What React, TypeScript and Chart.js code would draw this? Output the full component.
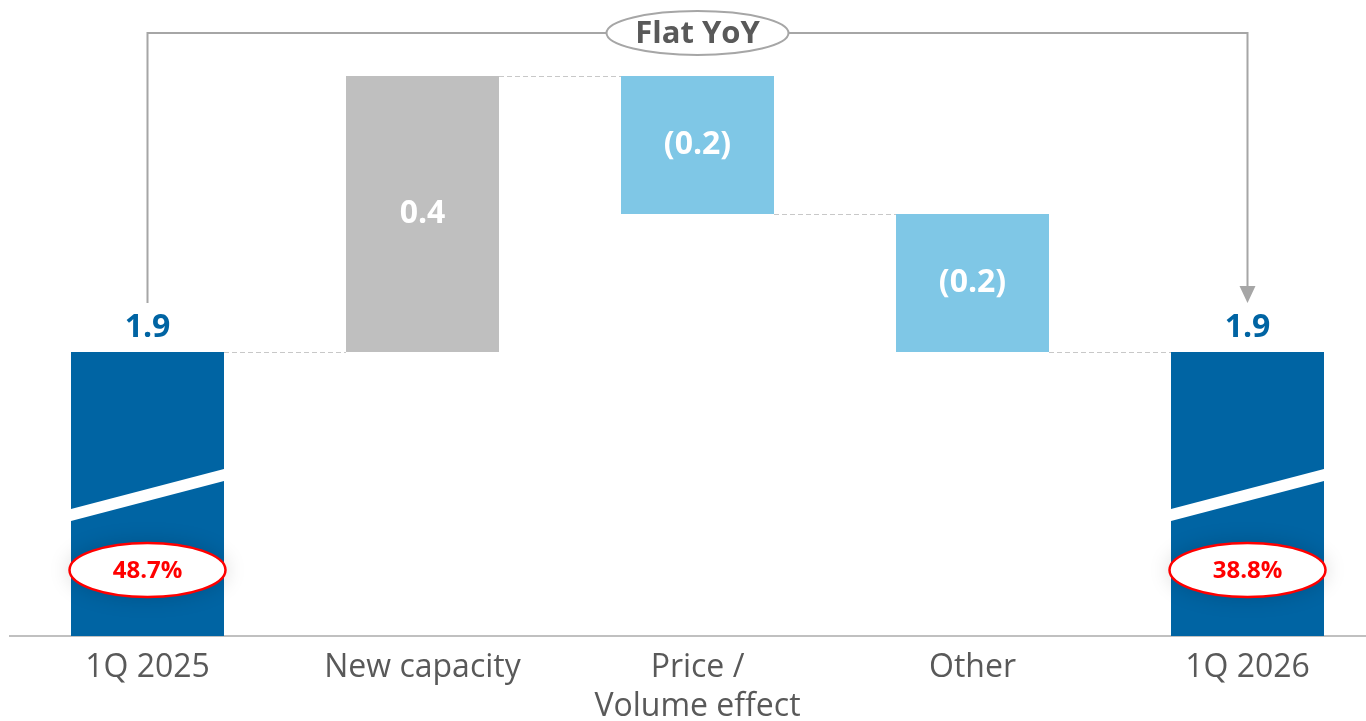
import React, { useEffect, useRef } from 'react';
import { Chart, registerables } from 'chart.js';

Chart.register(...registerables);

// ---------- data ----------
const categories: string[][] = [['1Q 2025'], ['New capacity'], ['Price /', 'Volume effect'], ['Other'], ['1Q 2026']];
const stepValues = [1.9, 0.4, -0.2, -0.2, 1.9];
const isTotal = [true, false, false, false, true];
const valueLabels = ['1.9', '0.4', '(0.2)', '(0.2)', '1.9'];
const marginLabels = ['48.7%', '', '', '', '38.8%'];
const bracketLabel = 'Flat YoY';
const axisMin = 1.4884; // broken axis (bars of totals are truncated)
const axisMax = 2.4;

// ---------- styles ----------
const DARK_BLUE = '#0064A3';
const GREY_BAR = '#BFBFBF';
const LIGHT_BLUE = '#7FC7E6';
const barColors = [DARK_BLUE, GREY_BAR, LIGHT_BLUE, LIGHT_BLUE, DARK_BLUE];
const FONT = '"Open Sans", "Noto Sans", sans-serif';

function buildRanges(): { ranges: number[][]; ends: number[] } {
  let run = 0;
  const ranges: number[][] = [];
  const ends: number[] = [];
  stepValues.forEach((v, i) => {
    if (isTotal[i]) {
      run = v;
      ranges.push([axisMin, v]);
    } else {
      const s = run;
      run += v;
      ranges.push([Math.min(s, run), Math.max(s, run)]);
    }
    ends.push(run);
  });
  return { ranges, ends };
}

const overlayPlugin = {
  id: 'waterfallOverlay',
  afterDatasetsDraw(chart: any) {
    const { ctx, chartArea } = chart;
    const yScale = chart.scales.y;
    const meta = chart.getDatasetMeta(0);
    const { ends } = buildRanges();
    const base = chartArea.bottom;

    ctx.save();
    // connectors
    ctx.strokeStyle = '#C8C8C8';
    ctx.lineWidth = 1;
    ctx.setLineDash([5, 3]);
    for (let i = 0; i < meta.data.length - 1; i++) {
      const a = meta.data[i];
      const b = meta.data[i + 1];
      const y = Math.round(yScale.getPixelForValue(ends[i])) + 0.5;
      ctx.beginPath();
      ctx.moveTo(a.x + a.width / 2, y);
      ctx.lineTo(b.x - b.width / 2, y);
      ctx.stroke();
    }
    ctx.setLineDash([]);

    // axis break stripes and margin ellipses on totals
    meta.data.forEach((bar: any, i: number) => {
      if (!isTotal[i]) return;
      const x0 = bar.x - bar.width / 2;
      const x1 = bar.x + bar.width / 2;
      ctx.fillStyle = '#FFFFFF';
      ctx.beginPath();
      ctx.moveTo(x0, base - 127);
      ctx.lineTo(x1, base - 167);
      ctx.lineTo(x1, base - 155);
      ctx.lineTo(x0, base - 115);
      ctx.closePath();
      ctx.fill();

      if (marginLabels[i]) {
        const cy = base - 66;
        ctx.save();
        ctx.shadowColor = 'rgba(0,0,0,0.18)';
        ctx.shadowBlur = 22;
        ctx.beginPath();
        ctx.ellipse(bar.x, cy, 78, 27, 0, 0, Math.PI * 2);
        ctx.fillStyle = '#FFFFFF';
        ctx.fill();
        ctx.restore();
        ctx.beginPath();
        ctx.ellipse(bar.x, cy, 78, 27, 0, 0, Math.PI * 2);
        ctx.strokeStyle = '#FF0000';
        ctx.lineWidth = 2.5;
        ctx.stroke();
        ctx.fillStyle = '#FF0000';
        ctx.font = `bold 24px ${FONT}`;
        ctx.textAlign = 'center';
        ctx.textBaseline = 'middle';
        ctx.fillText(marginLabels[i], bar.x, cy + 1);
      }
    });

    // value labels
    ctx.font = `bold 32px ${FONT}`;
    ctx.textAlign = 'center';
    ctx.textBaseline = 'middle';
    meta.data.forEach((bar: any, i: number) => {
      if (isTotal[i]) {
        ctx.fillStyle = DARK_BLUE;
        ctx.fillText(valueLabels[i], bar.x, bar.y - 24);
      } else {
        ctx.fillStyle = '#FFFFFF';
        const top = Math.min(bar.y, bar.base);
        const bot = Math.max(bar.y, bar.base);
        ctx.fillText(valueLabels[i], bar.x, (top + bot) / 2);
      }
    });

    // bracket "Flat YoY"
    const first = meta.data[0];
    const last = meta.data[meta.data.length - 1];
    const by = chartArea.top + 26;
    const bottomY = first.y - 49;
    const cx = meta.data[2].x;
    const rx = 91;
    const ry = 22;
    ctx.strokeStyle = '#A6A6A6';
    ctx.lineWidth = 2;
    ctx.beginPath();
    ctx.moveTo(first.x, bottomY);
    ctx.lineTo(first.x, by);
    ctx.lineTo(cx - rx, by);
    ctx.moveTo(cx + rx, by);
    ctx.lineTo(last.x, by);
    ctx.lineTo(last.x, bottomY - 16);
    ctx.stroke();
    ctx.fillStyle = '#A6A6A6';
    ctx.beginPath();
    ctx.moveTo(last.x - 8, bottomY - 17);
    ctx.lineTo(last.x + 8, bottomY - 17);
    ctx.lineTo(last.x, bottomY);
    ctx.closePath();
    ctx.fill();

    ctx.beginPath();
    ctx.ellipse(cx, by, rx, ry, 0, 0, Math.PI * 2);
    ctx.fillStyle = '#FFFFFF';
    ctx.fill();
    ctx.lineWidth = 2;
    ctx.strokeStyle = '#A6A6A6';
    ctx.stroke();
    ctx.fillStyle = '#595959';
    ctx.font = `bold 31px ${FONT}`;
    ctx.fillText(bracketLabel, cx, by + 1);
    ctx.restore();
  },
};

export default function App() {
  const canvasRef = useRef<HTMLCanvasElement | null>(null);

  useEffect(() => {
    if (!canvasRef.current) return;
    const { ranges } = buildRanges();
    const chart = new Chart(canvasRef.current, {
      type: 'bar',
      data: {
        labels: categories,
        datasets: [
          {
            data: ranges as any,
            backgroundColor: barColors,
            borderWidth: 0,
            barPercentage: 1,
            categoryPercentage: 153 / 275,
          },
        ],
      },
      options: {
        animation: false,
        responsive: false,
        devicePixelRatio: 1,
        layout: { padding: { left: 10, right: 15, top: 7, bottom: 0 } },
        plugins: { legend: { display: false }, tooltip: { enabled: false } },
        scales: {
          y: { display: false, min: axisMin, max: axisMax },
          x: {
            afterFit: (scale: any) => {
              scale.height = 85;
            },
            grid: { display: false, drawTicks: false },
            border: { display: true, color: '#C0C0C0', width: 2 },
            ticks: {
              padding: 12,
              color: '#595959',
              font: { family: FONT, size: 32, lineHeight: 1.22 },
              maxRotation: 0,
              autoSkip: false,
            },
          },
        },
      },
      plugins: [overlayPlugin],
    });
    return () => chart.destroy();
  }, []);

  return (
    <div
      style={{
        position: 'fixed',
        left: 0,
        top: 0,
        width: 1366,
        height: 721,
        overflow: 'hidden',
        background: '#FFFFFF',
      }}
    >
      <canvas ref={canvasRef} width={1400} height={721} style={{ display: 'block', width: 1400, height: 721 }} />
    </div>
  );
}
